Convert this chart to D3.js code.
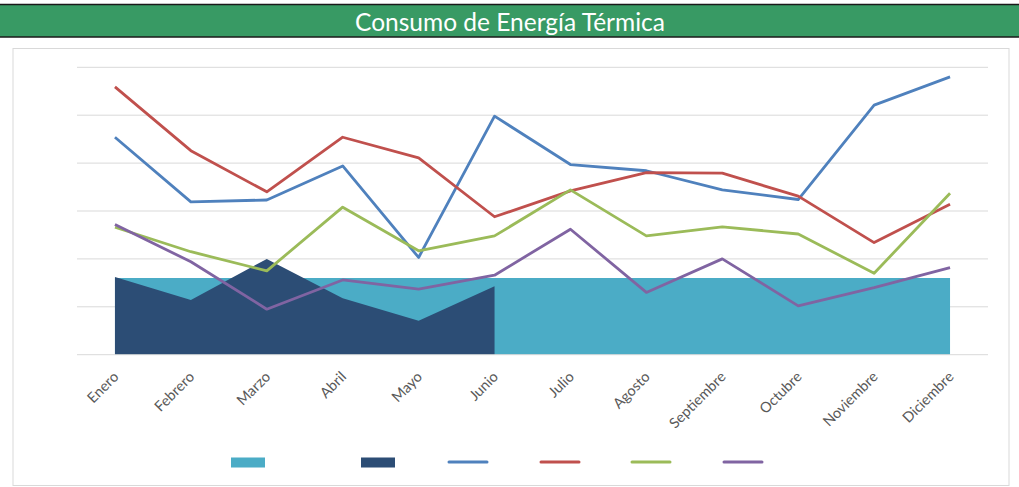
<!DOCTYPE html>
<html>
<head>
<meta charset="utf-8">
<script src="https://cdn.jsdelivr.net/npm/d3@7"></script>
<style>
    body { margin: 0; background: #ffffff; }
    svg { display: block; }
</style>
</head>
<body>
<script>
//chart data
var meses = ["Enero", "Febrero", "Marzo", "Abril", "Mayo", "Junio", "Julio",
    "Agosto", "Septiembre", "Octubre", "Noviembre", "Diciembre"];

var areaMeta = [16, 16, 16, 16, 16, 16, 16, 16, 16, 16, 16, 16];
var areaReal = [16.2, 11.4, 20, 11.8, 7.1, 14.3, null, null, null, null, null, null];

var serieAzul = [45.4, 31.9, 32.3, 39.4, 20.3, 49.8, 39.7, 38.4, 34.4, 32.4, 52.1, 58.0];
var serieRoja = [55.9, 42.6, 34.0, 45.4, 41.1, 28.8, 34.2, 38.0, 37.9, 33.1, 23.4, 31.4];
var serieVerde = [26.6, 21.5, 17.5, 30.8, 21.7, 24.8, 34.4, 24.8, 26.7, 25.2, 17.0, 33.7];
var serieMorada = [27.2, 19.4, 9.5, 15.6, 13.7, 16.6, 26.2, 13.0, 20.0, 10.2, 14.0, 18.2];

var yTicks = [0, 10, 20, 30, 40, 50, 60];

window.onload = function(){
    var width = 1019,
        height = 487;

    var svg = d3.select("body")
        .append("svg")
        .attr("width", width)
        .attr("height", height);

    //title bar
    svg.append("rect")
        .attr("x", -2)
        .attr("y", 4.5)
        .attr("width", width + 4)
        .attr("height", 32.5)
        .attr("fill", "#389a64")
        .attr("stroke", "#1a1a1a")
        .attr("stroke-width", 1.5);

    svg.append("text")
        .attr("x", 510)
        .attr("y", 31)
        .attr("text-anchor", "middle")
        .attr("font-family", "Lato, 'Open Sans', sans-serif")
        .attr("font-size", 24.5)
        .attr("fill", "#ffffff")
        .text("Consumo de Energía Térmica");

    //chart frame
    svg.append("rect")
        .attr("x", 13)
        .attr("y", 48.5)
        .attr("width", 996)
        .attr("height", 437)
        .attr("fill", "#ffffff")
        .attr("stroke", "#d9d9d9")
        .attr("stroke-width", 1);

    var x = d3.scalePoint()
        .domain(meses)
        .range([77, 988])
        .padding(0.5);

    var y = d3.scaleLinear()
        .domain([0, 60])
        .range([354.7, 67.3]);

    //gridlines
    svg.selectAll(".grid")
        .data(yTicks.slice(1))
        .enter()
        .append("line")
        .attr("class", "grid")
        .attr("x1", 77)
        .attr("x2", 988)
        .attr("y1", function(d){ return y(d); })
        .attr("y2", function(d){ return y(d); })
        .attr("stroke", "#d9d9d9")
        .attr("stroke-width", 1);

    //areas
    var area = d3.area()
        .defined(function(d){ return d != null; })
        .x(function(d, i){ return x(meses[i]); })
        .y0(y(0))
        .y1(function(d){ return y(d); });

    svg.append("path")
        .datum(areaMeta)
        .attr("d", area)
        .attr("fill", "#4bacc6");

    svg.append("path")
        .datum(areaReal)
        .attr("d", area)
        .attr("fill", "#2c4d75");

    //x axis
    var xAxis = svg.append("g")
        .attr("transform", "translate(0," + y(0) + ")")
        .call(d3.axisBottom(x).tickSize(0).tickPadding(0));
    xAxis.select(".domain")
        .attr("d", "M77,0H988")
        .attr("stroke", "#d9d9d9");
    xAxis.selectAll("text")
        .attr("font-family", "Lato, 'Open Sans', sans-serif")
        .attr("font-size", 14.5)
        .attr("fill", "#595959")
        .attr("text-anchor", "end")
        .attr("dy", 0)
        .attr("transform", "translate(4,23) rotate(-45)");

    //lines
    var line = d3.line()
        .x(function(d, i){ return x(meses[i]); })
        .y(function(d){ return y(d); });

    var lineas = [
        {datos: serieAzul, color: "#4f81bd"},
        {datos: serieRoja, color: "#c0504d"},
        {datos: serieVerde, color: "#9bbb59"},
        {datos: serieMorada, color: "#8064a2"}
    ];

    svg.selectAll(".serie")
        .data(lineas)
        .enter()
        .append("path")
        .attr("class", "serie")
        .attr("d", function(d){ return line(d.datos); })
        .attr("fill", "none")
        .attr("stroke", function(d){ return d.color; })
        .attr("stroke-width", 2.8)
        .attr("stroke-linejoin", "round");

    //legend (no labels shown)
    var leyenda = [
        {tipo: "rect", color: "#4bacc6", x: 231},
        {tipo: "rect", color: "#2c4d75", x: 361},
        {tipo: "line", color: "#4f81bd", x: 449},
        {tipo: "line", color: "#c0504d", x: 541},
        {tipo: "line", color: "#9bbb59", x: 632},
        {tipo: "line", color: "#8064a2", x: 724}
    ];

    var items = svg.selectAll(".leyenda")
        .data(leyenda)
        .enter()
        .append("g")
        .attr("class", "leyenda")
        .attr("transform", function(d){ return "translate(" + d.x + ",462)"; });

    items.filter(function(d){ return d.tipo == "rect"; })
        .append("rect")
        .attr("x", 0)
        .attr("y", -4.5)
        .attr("width", 34)
        .attr("height", 10)
        .attr("fill", function(d){ return d.color; });

    items.filter(function(d){ return d.tipo == "line"; })
        .append("line")
        .attr("x1", 0)
        .attr("x2", 38)
        .attr("y1", 0)
        .attr("y2", 0)
        .attr("stroke", function(d){ return d.color; })
        .attr("stroke-width", 3)
        .attr("stroke-linecap", "round");
};
</script>
</body>
</html>
